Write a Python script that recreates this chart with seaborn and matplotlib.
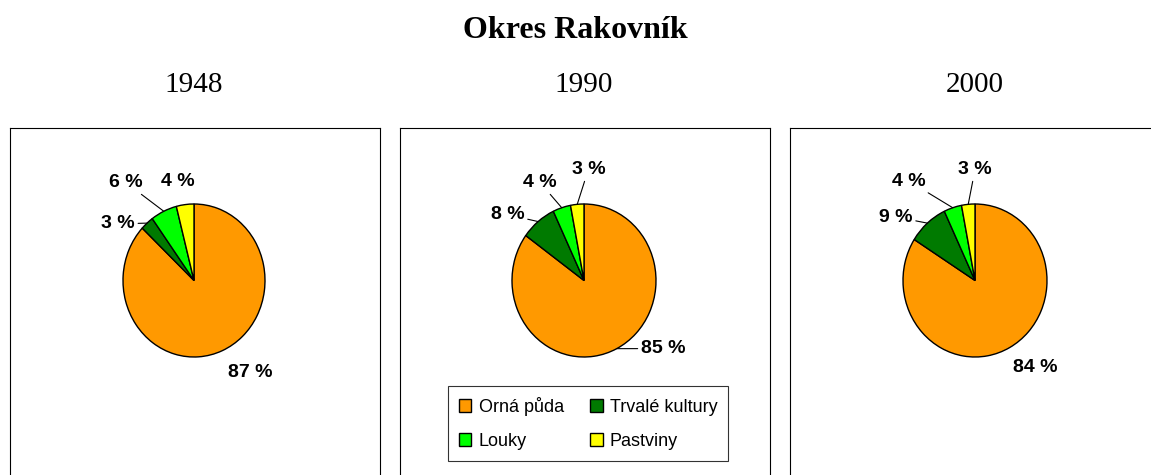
import numpy as np
import matplotlib
matplotlib.use("Agg")
import matplotlib.pyplot as plt
import seaborn as sns
from matplotlib.patches import Patch

sns.set_theme(style="white")
plt.rcParams["text.color"] = "black"

# data
years = ["1948", "1990", "2000"]
categories = ["Orná půda", "Trvalé kultury", "Louky", "Pastviny"]
share_1948 = [87, 3, 6, 4]
share_1990 = [85, 8, 4, 3]
share_2000 = [84, 9, 4, 3]
shares = [share_1948, share_1990, share_2000]

colors = ["#FF9900", "#007A00", "#00FF00", "#FFFF00"]

# layout (pixels in a 1151x475 figure)
W, H = 1151, 475
panel_left = [10, 400, 790]
panel_top = 128
pie_cx = [194, 584, 975]
pie_cy = 280.5
pie_rx = [71, 72, 72]
pie_ry = 76.5

# label positions in pie units (x = rx, y = ry) and whether a leader line is drawn
label_pos = [
    [(0.79, -1.20), (-1.07, 0.74), (-0.96, 1.28), (-0.23, 1.30)],
    [(1.10, -0.89), (-1.06, 0.86), (-0.61, 1.28), (0.06, 1.45)],
    [(0.83, -1.14), (-1.10, 0.83), (-0.92, 1.30), (0.00, 1.45)],
]
leaders = [
    [False, True, True, False],
    [True, True, True, True],
    [False, True, True, True],
]

fig = plt.figure(figsize=(W / 100, H / 100), dpi=100)
fig.patch.set_facecolor("white")

fig.text(0.5, 1 - 31 / H, "Okres Rakovník", ha="center", va="center",
         fontsize=23, fontweight="bold", family="Liberation Serif", color="black")

for i, year in enumerate(years):
    # panel frame
    pw = 370 if i < 2 else 400
    bg = fig.add_axes([panel_left[i] / W, -0.1, pw / W, (H - panel_top) / H + 0.1])
    bg.set_xticks([])
    bg.set_yticks([])
    bg.set_facecolor("white")
    for s in bg.spines.values():
        s.set_color("black")
        s.set_linewidth(0.8)
    bg.set_zorder(0)

    fig.text(pie_cx[i] / W, 1 - 85 / H, year, ha="center", va="center",
             fontsize=21, family="Liberation Serif", color="black")

    ax = fig.add_axes([(pie_cx[i] - pie_rx[i]) / W, (H - pie_cy - pie_ry) / H,
                       2 * pie_rx[i] / W, 2 * pie_ry / H])
    ax.set_zorder(1)
    ax.patch.set_alpha(0)
    vals = shares[i]
    ax.pie(vals, colors=colors, startangle=90, counterclock=False, radius=1,
           wedgeprops=dict(edgecolor="black", linewidth=1.0))
    ax.set_aspect("auto")
    ax.set_xlim(-1, 1)
    ax.set_ylim(-1, 1)
    ax.axis("off")

    total = sum(vals)
    cum = 0
    for j, v in enumerate(vals):
        theta = np.deg2rad(90 - 360 * (cum + v / 2) / total)
        cum += v
        edge = (np.cos(theta), np.sin(theta))
        txt = f"{v} %"
        kw = dict(ha="center", va="center", fontsize=14, fontweight="bold",
                  family="Liberation Sans", color="black", annotation_clip=False)
        if leaders[i][j]:
            ax.annotate(txt, xy=edge, xytext=label_pos[i][j],
                        arrowprops=dict(arrowstyle="-", color="black", lw=0.8,
                                        shrinkA=0, shrinkB=0), **kw)
        else:
            ax.annotate(txt, xy=label_pos[i][j], **kw)

handles = [Patch(facecolor=c, edgecolor="black", linewidth=1.0) for c in colors]
order = [0, 2, 1, 3]
leg = fig.legend([handles[k] for k in order], [categories[k] for k in order],
                 ncol=2, loc="upper left",
                 bbox_to_anchor=(448 / W, 1 - 386 / H),
                 prop=dict(family="Liberation Sans", size=13),
                 frameon=True, fancybox=False, edgecolor="black",
                 handlelength=0.7, handleheight=0.7, handletextpad=0.4,
                 columnspacing=1.45, labelspacing=0.95, borderpad=0.6,
                 borderaxespad=0)
leg.get_frame().set_linewidth(0.8)
leg.set_zorder(5)
for t in leg.get_texts():
    t.set_color("black")

fig.savefig("out.png", dpi=100, facecolor="white")
